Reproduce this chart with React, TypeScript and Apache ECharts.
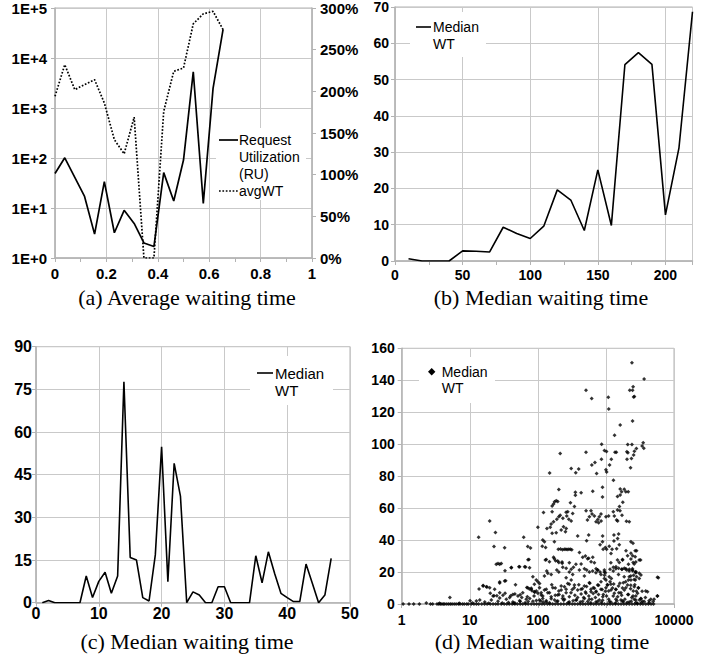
import React, { useEffect, useRef } from "react";
import * as echarts from "echarts";

// ---------- (a) Average waiting time ----------
const ruX = [0, 0.038, 0.077, 0.115, 0.154, 0.192, 0.231, 0.269, 0.308, 0.346, 0.385, 0.423, 0.462, 0.5, 0.538, 0.577, 0.615, 0.654];
const ruValues = [49, 101, 41, 17, 3.0, 33.6, 3.2, 9.0, 4.9, 2.0, 1.7, 51, 13.8, 91, 5300, 12.4, 2470, 37400];
const avgWtPct = [194, 232, 202, 208, 214, 186, 142, 125, 169, 0, 0, 176, 224, 228, 281, 293, 296, 274];
const aLeftTicks = ["1E+0", "1E+1", "1E+2", "1E+3", "1E+4", "1E+5"];

// ---------- (b) Median waiting time ----------
const bX = [10, 20, 30, 40, 50, 60, 70, 80, 90, 100, 110, 120, 130, 140, 150, 160, 170, 180, 190, 200, 210, 220];
const bMedian = [0.6, 0, 0, 0, 2.8, 2.7, 2.5, 9.3, 7.6, 6.2, 9.6, 19.6, 16.8, 8.4, 25.1, 9.8, 54.1, 57.4, 54.2, 12.7, 31.2, 68.7];

// ---------- (c) Median waiting time ----------
const cX = [1, 2, 3, 4, 5, 6, 7, 8, 9, 10, 11, 12, 13, 14, 15, 16, 17, 18, 19, 20, 21, 22, 23, 24, 25, 26, 27, 28, 29, 30, 31, 32, 33, 34, 35, 36, 37, 38, 39, 40, 41, 42, 43, 44, 45, 46, 47];
const cMedian = [0, 0.8, 0, 0, 0, 0, 0, 9.4, 1.8, 7.5, 10.7, 3.3, 9.4, 77.7, 15.9, 15.0, 1.8, 0.6, 16.8, 54.8, 7.4, 49, 37.5, 0, 3.8, 2.7, 0, 0, 5.6, 5.6, 0, 0, 0, 0, 16.5, 7.0, 17.9, 10.3, 3.3, 1.8, 0.4, 0.4, 13.6, 6.8, 0, 2.7, 15.6];

// ---------- (d) Median waiting time (scatter) ----------
const dHigh: number[][] = [
  [2410, 151], [3640, 140.8], [510, 133.8], [2240, 133.8], [2460, 133.8], [2510, 136], [618, 128.6], [1085, 129.4],
  [2550, 129.5], [2620, 129.8], [1100, 122], [1620, 112], [2460, 114.5], [1340, 105.6], [865, 100], [2090, 99.8],
  [2410, 99.8], [3530, 100.9], [3400, 98.8], [3600, 97.4], [213, 94.2], [510, 94.9], [950, 96], [1020, 95.5],
  [1360, 94.9], [1420, 94.9], [2030, 95.2], [2100, 94.6], [2620, 95.6], [2550, 93.2], [2800, 97.3], [860, 90.6],
  [1200, 90.6], [620, 86.9], [690, 88.6], [1130, 86.9], [2370, 91], [2040, 90.6], [2300, 85.2], [309, 84.8],
  [398, 84.4], [360, 82.2], [149, 82], [730, 81.6], [1023, 82.6], [1000, 84], [1290, 77.5], [890, 73],
  [1620, 72], [1700, 70.3], [1860, 71.8], [1960, 70.3], [2130, 70.3], [203, 71.7], [640, 70.6], [356, 70],
  [356, 68], [432, 69.6], [1620, 68.2], [1480, 67.2], [890, 67], [1770, 63.6], [176, 64], [186, 64.6],
  [170, 62.5], [162, 61.3], [301, 63.3], [345, 61], [1580, 61], [196, 64.2]
];
const dMid: number[][] = [
  [511, 58.3], [603, 58.3], [626, 56.3], [571, 54.6], [676, 55], [760, 52.9], [800, 54.6], [847, 56.3],
  [716, 51.5], [782, 50.8], [1096, 55], [1283, 57.7], [1327, 55], [1436, 52.5], [1610, 58.3], [1722, 55.6],
  [1485, 52], [2200, 51.5], [1480, 58.8], [275, 57.7], [325, 56.7], [266, 55], [285, 53], [309, 51.9],
  [121, 57.3], [162, 57.7], [203, 54.6], [190, 53], [170, 51.5], [213, 55.6], [260, 57.4], [233, 53.6],
  [1000, 54.6], [2000, 51.8], [850, 51.9], [535, 52.5], [157, 50], [19.6, 52], [100, 48], [136, 47.3],
  [152, 48], [162, 44.2], [186, 44.6], [220, 46.3], [261, 47.3], [254, 45.2], [238, 48.4], [23.8, 44.8],
  [13.5, 41.7], [62, 41.7], [385, 42.5], [558, 43.1], [521, 39.6], [895, 42.5], [1535, 43.8], [1485, 41],
  [1310, 43.2], [890, 39], [1310, 39.4], [2330, 39], [118, 40], [125, 38.9], [116, 36.2], [130, 35.4],
  [175, 39], [22.7, 36], [32.5, 35.2], [71, 36], [78, 35], [980, 35.4], [1025, 34.2], [1120, 36.2],
  [1230, 34.2], [1435, 34.6], [1570, 37], [1188, 31.6], [820, 37], [910, 34.2], [1970, 33.3], [2080, 30.2],
  [2330, 31.7], [2466, 30.2], [2690, 33.3], [2820, 33.3], [2330, 28.1], [2510, 26], [2690, 29.6], [1570, 26],
  [1757, 27.5], [200, 34.2], [215, 34.4], [230, 34], [245, 34.3], [258, 34.2], [270, 34.1], [285, 34.3],
  [300, 34.2], [315, 34], [408, 32.3], [456, 29.2], [499, 30], [558, 28.6], [605, 26.5], [640, 29.2],
  [133, 27.9], [148, 26.5], [170, 29.2], [182, 27.1], [203, 25.9], [228, 25.5], [261, 22.4], [309, 21.7],
  [333, 23], [232, 23], [71.6, 27.7], [3230, 27.5], [24.5, 24.8], [27.5, 24.8], [32.9, 20.8], [40.8, 22.9],
  [52.7, 23.3], [66, 23.1], [2500, 38], [2600, 25], [2450, 22],
  [26, 25.4], [29, 25.4], [40.7, 22.7], [54, 23.3], [64, 23.3], [75.5, 22.7], [74, 27.9], [129, 27.5],
  [175, 28.3], [196, 26.9], [227, 26.3], [290, 25.8], [363, 24.8], [537, 28.3], [676, 25.8], [1183, 25.8],
  [1480, 27.5], [1753, 27.9], [2140, 24.8], [2750, 26.3], [3080, 27.5]
];
const dLow: number[][] = [
  [432, 25], [483, 22], [522, 21.3], [571, 20], [716, 22], [757, 21.3], [819, 20], [948, 21.3],
  [980, 19.6], [1148, 21.7], [1283, 23], [1405, 23.3], [1535, 22.3], [1722, 21.7], [1862, 22.3], [2013, 21.3],
  [2204, 21.7], [2466, 20.8], [2757, 20.2], [3090, 19.2], [2820, 17.1], [3090, 16], [3270, 18.1], [5710, 16.7],
  [4080, 7.7], [4940, 1.5], [5710, 5], [84.5, 17.1], [94.7, 15], [106, 12.9], [80, 9.8], [89, 7.7],
  [100, 6.7], [112, 5.6], [125, 8.8], [140, 7.1], [157, 4.6], [118, 3.5], [133, 2.1], [148, 0.8],
  [176, 2.5], [196, 5.6], [220, 8.8], [246, 10.8], [275, 12.9], [309, 15], [345, 11.9], [385, 8.8],
  [432, 6.3], [483, 3.5], [540, 1.5], [603, 7.7], [676, 9.8], [757, 11.9], [847, 14], [948, 16],
  [1060, 11.9], [1188, 8.8], [1327, 6.7], [1485, 4.6], [1662, 2.5], [1862, 8.8], [2080, 11.9], [2330, 15],
  [2606, 10.8], [2913, 6.7], [3268, 3.5], [3650, 1.5], [5.1, 4], [10.1, 2.1], [14, 2.5], [20, 6.8],
  [22.7, 5.2], [25, 5.2], [27.5, 3.7], [33, 6.8], [40, 5.2], [46, 6.2], [55, 5.8], [58, 4],
  [69, 10.4], [75, 9.4], [82, 8.3], [90, 7.3], [70, 4.5], [76, 3.5], [88, 5], [55, 1.5],
  [72, 1.5], [37, 1], [46, 0.6], [27.5, 13.2], [33.6, 14.5], [47, 12], [15.7, 11.5], [17.9, 10.7],
  [13.7, 9.4], [100, 14], [2550, 18], [2700, 15], [2650, 12], [2800, 8], [2500, 5], [2600, 3],
  [2750, 1], [2900, 0.5], [2700, 20], [950, 18], [1000, 15], [1050, 12], [980, 8], [1020, 5],
  [1100, 3], [1150, 14], [1200, 16], [1250, 10], [160, 12], [180, 10], [205, 6], [230, 3.5],
  [260, 7], [290, 4.5], [320, 9], [350, 5.5], [370, 2.5], [400, 12], [450, 9.5], [470, 4],
  [500, 7.5], [520, 11], [560, 5], [580, 13], [620, 3], [650, 6.5], [700, 4], [720, 8],
  [780, 6], [800, 2.5], [880, 9], [900, 4.5], [1300, 12.5], [1400, 9], [1450, 2], [1550, 7],
  [1600, 13], [1700, 5.5], [1750, 10], [1900, 3], [1950, 14], [2100, 6], [2200, 17], [2300, 9.5],
  [2400, 4], [3000, 10], [3100, 2.5], [3400, 8], [3800, 4], [4300, 2], [120, 1.2], [190, 1.5],
  [280, 1], [330, 2], [420, 1.2], [600, 0.8], [750, 1.6], [860, 1.1], [1180, 1.3], [1380, 0.7],
  [1800, 1.4], [2050, 0.9], [2350, 1.7], [3300, 0.8], [65, 0.8], [95, 2.2], [110, 1.8], [240, 2.4],
  [135, 20.6], [140, 19.2], [125, 17.5], [157, 18.5], [190, 21.3], [203, 20], [290, 20], [325, 18.5],
  [407, 21.3], [482, 17.5], [260, 16.5], [638, 20.6], [714, 19.6], [755, 21.3], [845, 18.5], [946, 20],
  [1120, 17.1], [1280, 20.6], [1400, 22.1], [1530, 18.5], [1713, 21.7], [1962, 22.1], [2195, 20.6], [2455, 21.3],
  [2750, 19.6], [2322, 17.5], [1855, 17.1], [2600, 15.4], [2140, 15], [5890, 16.5], [27.5, 13.75], [32.5, 14.4],
  [15.7, 11.25], [17.5, 10.8], [19.6, 10.2], [23.2, 9.2], [27.5, 7.1], [30.7, 5.4], [22, 5], [38.5, 4],
  [43, 6], [51, 5], [60, 7.1], [71, 10.2], [80, 9.2], [89, 12.3], [95, 8.1], [106, 10.2],
  [112, 7.1], [118, 5], [133, 9.2], [148, 7.1], [166, 10.2], [180, 5.4], [203, 8.1], [220, 11.25],
  [233, 5], [260, 9.2], [290, 12.3], [307, 7.1], [342, 10.2], [384, 4], [430, 9.2], [482, 11.25],
  [510, 6.7], [570, 13.3], [602, 9.2], [652, 10.2], [714, 7.5], [780, 11.7], [845, 9.2], [916, 6],
  [1000, 10.2], [1096, 8.1], [1183, 12.3], [1280, 5], [1400, 9.2], [1530, 11.25], [1660, 7.1], [1800, 13.3],
  [1962, 10.2], [2140, 6], [2322, 11.7], [2520, 8.1], [2750, 5], [3000, 10.2], [3250, 3.3], [3850, 8.1],
  [4560, 2.9], [5100, 2.9], [5700, 5], [12.5, 1.9], [16.6, 1.25], [20.7, 2.5], [26, 1.7], [34.4, 2.9],
  [43, 1.25], [54, 2.1], [67.6, 2.9], [84.5, 1.7], [106, 2.5], [133, 1.25], [157, 3.3], [196, 1.9],
  [246, 2.9], [290, 1.25], [363, 2.5], [455, 1.7], [570, 2.9], [714, 1.25], [894, 2.3], [1120, 1.5],
  [1400, 2.9], [1753, 1.9], [2195, 1.25], [2750, 2.5], [3440, 1.7], [4300, 0.8]
];
const dZero: number[][] = [
  [1.05, 0], [1.28, 0], [1.5, 0], [1.82, 0], [2.3, 0.6], [2.65, 0], [2.85, 0], [3.3, 0], [3.5, 0], [3.7, 0],
  [3.9, 0], [4.1, 0], [4.3, 0], [4.6, 0], [4.9, 0], [5.2, 0], [5.5, 0], [5.9, 0], [6.3, 0], [6.8, 0],
  [7.2, 0], [7.8, 0], [8.3, 0], [9, 0], [9.5, 0], [10.5, 0], [11.5, 0], [12.5, 0], [13.5, 0], [15, 0],
  [16.5, 0], [18, 0], [20, 0], [22, 0], [24, 0], [26, 0], [29, 0], [32, 0], [35, 0], [38, 0],
  [42, 0], [46, 0], [50, 0], [55, 0], [60, 0], [66, 0], [72, 0], [80, 0], [88, 0], [96, 0],
  [105, 0], [115, 0], [125, 0], [138, 0], [150, 0], [165, 0], [180, 0], [198, 0], [218, 0], [240, 0],
  [265, 0], [290, 0], [320, 0], [350, 0], [385, 0], [420, 0], [460, 0], [500, 0], [550, 0], [600, 0],
  [660, 0], [720, 0], [790, 0], [870, 0], [950, 0], [1050, 0], [1150, 0], [1260, 0], [1380, 0], [1520, 0],
  [1670, 0], [1830, 0], [2000, 0], [2200, 0], [2420, 0], [2650, 0], [2900, 0], [3200, 0], [3500, 0], [3850, 0],
  [4200, 0], [4600, 0], [5000, 0], [3.6, 0.4], [7, 0.5], [11, 0.6], [19, 0.5], [30, 0.7], [44, 0.4]
];

const AXIS = "#b3b3b3";
const GRIDC = "#c9c9c9";
const LBL = '"Liberation Sans", Arial, sans-serif';

function axisBase(fontSize: number, margin: number) {
  return {
    axisLine: { show: true, lineStyle: { color: AXIS, width: 1.5 } },
    axisTick: { show: true, length: 4, lineStyle: { color: AXIS } },
    splitLine: { show: true, lineStyle: { color: GRIDC, width: 1 } },
    axisLabel: { color: "#000", fontFamily: LBL, fontWeight: "bold", fontSize, margin },
  };
}

export default function App() {
  const ref = useRef<HTMLDivElement>(null);
  useEffect(() => {
    document.body.style.margin = "0";
    if (!ref.current) return;
    const chart = echarts.init(ref.current, null, { renderer: "svg" });

    const legendText = (x: number, y: number, text: string, size = 14) => ({
      type: "text", x, y, z: 101,
      style: { text, font: `${size}px ${LBL}`, fill: "#000", align: "left", verticalAlign: "middle" },
    });
    const whiteRect = (x: number, y: number, w: number, h: number) => ({
      type: "rect", shape: { x, y, width: w, height: h }, z: 100, style: { fill: "#fff" },
    });
    const caption = (x: number, y: number, text: string) => ({
      type: "text", x, y, z: 101,
      style: { text, font: '22px "Liberation Serif", "Times New Roman", serif', fill: "#000", align: "center", verticalAlign: "middle" },
    });

    const option: any = {
      animation: false,
      backgroundColor: "#fff",
      grid: [
        { left: 55, top: 8, width: 257, height: 250, show: true, borderColor: AXIS, borderWidth: 1 },
        { left: 395, top: 5, width: 297.5, height: 256, show: true, borderColor: AXIS, borderWidth: 1 },
        { left: 36, top: 346.7, width: 314, height: 256, show: true, borderColor: AXIS, borderWidth: 1 },
        { left: 401.7, top: 348.3, width: 272.3, height: 255.7, show: true, borderColor: AXIS, borderWidth: 1 },
      ],
      xAxis: [
        {
          gridIndex: 0, type: "value", min: 0, max: 1, interval: 0.2, ...axisBase(15, 8),
          minorTick: { show: true, splitNumber: 2, length: 4, lineStyle: { color: AXIS } },
          axisLabel: { ...axisBase(15, 8).axisLabel, formatter: (v: number) => String(parseFloat(v.toFixed(1))) },
        },
        {
          gridIndex: 1, type: "value", min: 0, max: 220, interval: 50, ...axisBase(14, 7),
          minorTick: { show: true, splitNumber: 2, length: 4, lineStyle: { color: AXIS } },
          axisLabel: { ...axisBase(14, 7).axisLabel, showMaxLabel: false },
        },
        { gridIndex: 2, type: "value", min: 0, max: 50, interval: 10, ...axisBase(16, 3) },
        {
          gridIndex: 3, type: "log", logBase: 10, min: 1, max: 10000, ...axisBase(14, 9),
          axisLabel: { ...axisBase(14, 9).axisLabel, formatter: (v: number) => String(Math.round(v)) },
        },
      ],
      yAxis: [
        {
          gridIndex: 0, type: "log", logBase: 10, min: 1, max: 100000, ...axisBase(15, 8),
          axisLabel: { ...axisBase(15, 8).axisLabel, formatter: (v: number) => aLeftTicks[Math.round(Math.log10(v))] },
        },
        {
          gridIndex: 0, type: "value", position: "right", min: 0, max: 300, interval: 50, ...axisBase(15, 8),
          splitLine: { show: false },
          axisLabel: { ...axisBase(15, 8).axisLabel, formatter: "{value}%" },
        },
        { gridIndex: 1, type: "value", min: 0, max: 70, interval: 10, ...axisBase(14, 6) },
        { gridIndex: 2, type: "value", min: 0, max: 90, interval: 15, ...axisBase(16, 4) },
        { gridIndex: 3, type: "value", min: 0, max: 160, interval: 20, ...axisBase(14, 7) },
      ],
      series: [
        {
          name: "Request Utilization (RU)", type: "line", xAxisIndex: 0, yAxisIndex: 0, symbol: "none",
          lineStyle: { color: "#000", width: 1.7 }, data: ruX.map((x, i) => [x, ruValues[i]]),
        },
        {
          name: "avgWT", type: "line", xAxisIndex: 0, yAxisIndex: 1, symbol: "none",
          lineStyle: { color: "#000", width: 1.7, type: [1.7, 1.7] }, data: ruX.map((x, i) => [x, avgWtPct[i]]),
        },
        {
          name: "Median WT (b)", type: "line", xAxisIndex: 1, yAxisIndex: 2, symbol: "none",
          lineStyle: { color: "#000", width: 1.6 }, data: bX.map((x, i) => [x, bMedian[i]]),
        },
        {
          name: "Median WT (c)", type: "line", xAxisIndex: 2, yAxisIndex: 3, symbol: "none",
          lineStyle: { color: "#000", width: 1.6 }, data: cX.map((x, i) => [x, cMedian[i]]),
        },
        {
          name: "Median WT (d)", type: "scatter", xAxisIndex: 3, yAxisIndex: 4, symbol: "diamond", symbolSize: 4,
          itemStyle: { color: "#000" },
          data: [...dZero, ...dLow, ...dMid, ...dHigh].map((p) => [Math.max(p[0], 1.01), p[1]]),
        },
      ],
      graphic: [
        // legend (a)
        whiteRect(216, 128, 90, 72),
        { type: "line", z: 101, shape: { x1: 219, y1: 140, x2: 238, y2: 140 }, style: { stroke: "#000", lineWidth: 1.7 } },
        legendText(239, 140, "Request"),
        legendText(239, 157, "Utilization"),
        legendText(239, 174, "(RU)"),
        { type: "line", z: 101, shape: { x1: 219, y1: 191, x2: 238, y2: 191 }, style: { stroke: "#000", lineWidth: 1.7, lineDash: [1.7, 1.7] } },
        legendText(239, 191, "avgWT"),
        // legend (b)
        whiteRect(410, 12, 76, 45),
        { type: "line", z: 101, shape: { x1: 416, y1: 27, x2: 431, y2: 27 }, style: { stroke: "#000", lineWidth: 1.6 } },
        legendText(433, 27, "Median"),
        legendText(433, 44, "WT"),
        // legend (c)
        whiteRect(250, 356, 83, 49),
        { type: "line", z: 101, shape: { x1: 257, y1: 373, x2: 273, y2: 373 }, style: { stroke: "#000", lineWidth: 1.6 } },
        legendText(275, 373, "Median", 15),
        legendText(275, 390, "WT", 15),
        // legend (d)
        whiteRect(419, 357, 76, 46),
        { type: "polygon", z: 101, shape: { points: [[431.7, 368], [435.4, 371.7], [431.7, 375.4], [428, 371.7]] }, style: { fill: "#000" } },
        legendText(441.7, 372, "Median"),
        legendText(441.7, 388, "WT"),
        // captions
        caption(187, 297, "(a) Average waiting time"),
        caption(541, 297, "(b) Median waiting time"),
        caption(187, 641, "(c) Median waiting time"),
        caption(542, 641, "(d) Median waiting time"),
      ],
    };
    chart.setOption(option);
    return () => chart.dispose();
  }, []);
  return <div ref={ref} style={{ width: 717, height: 660 }} />;
}
